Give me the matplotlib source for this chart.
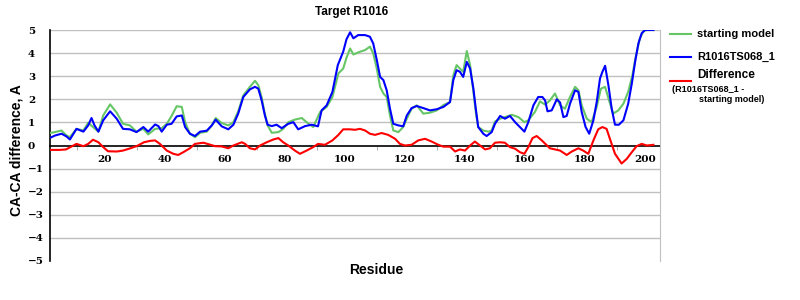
import numpy as np
import matplotlib
matplotlib.use("Agg")
import matplotlib.pyplot as plt
from matplotlib.lines import Line2D

# values (residue, CA-CA difference)
green_x = [2, 3.3, 5.5, 7.2, 8.3, 10.5, 12.8, 14.4, 16, 17.8, 19.4, 21.7, 23.9, 26, 28.3, 30.5, 32.8, 34.4,
           36.7, 38.9, 40.6, 42.2, 43.9, 45.6, 46.7, 48.3, 50, 51.7, 53.9, 55.6, 56.9, 58.9, 61.1, 62.8, 64.4,
           66.1, 68.3, 70, 71.1, 72.2, 73.1, 74.2, 75.6, 77.8, 79.4, 81.1, 83.3, 85.6, 87.2, 89.4, 91.7, 93.9,
           95.8, 97.8, 99.4, 100.5, 101.7, 102.8, 105, 106.7, 108.3, 109.4, 110.6, 111.7, 112.8, 113.9, 115,
           116.1, 117.8, 119.4, 120.6, 122.2, 123.9, 126.1, 128.3, 130.6, 132.8, 135, 136.1, 137.2, 138.3,
           139.4, 140.6, 141.7, 142.8, 143.6, 144.4, 146.1, 147.8, 148.9, 150, 151.7, 153.3, 155.6, 157.8,
           159.8, 161.1, 163.3, 165, 166.7, 168.3, 170, 171.7, 173.3, 175, 176.7, 177.8, 178.9, 180.6, 182.2,
           183.9, 185.3, 186.7, 188, 189.4, 191.1, 192.8, 194.4, 195.8, 196.9, 198.3, 199.4, 200.5, 202.8]
green_y = [0.55, 0.58, 0.65, 0.43, 0.36, 0.72, 0.65, 0.99, 0.8, 0.6, 1.3, 1.78, 1.42, 0.94, 0.87, 0.6, 0.72, 0.48,
           0.72, 0.75, 0.94, 1.28, 1.7, 1.67, 1.01, 0.51, 0.36, 0.55, 0.6, 0.87, 1.19, 0.97, 0.87, 1.01, 1.48,
           2.17, 2.54, 2.8, 2.61, 2.1, 1.48, 0.87, 0.55, 0.58, 0.72, 1.01, 1.12, 1.19, 1.01, 0.8, 1.45, 1.67,
           2.1, 3.12, 3.33, 3.8, 4.2, 3.94, 4.06, 4.13, 4.28, 3.99, 3.33, 2.54, 2.25, 2.1, 1.3,
           0.65, 0.58, 0.8, 1.16, 1.59, 1.74, 1.38, 1.42, 1.52, 1.75, 1.88, 3.04, 3.48, 3.33,
           3.19, 4.09, 3.48, 2.32, 1.45, 0.8, 0.65, 0.6, 0.65, 1.04, 1.16, 1.23, 1.33, 1.23,
           1.01, 1.09, 1.45, 1.91, 1.77, 1.95, 2.25, 1.74, 1.59, 2.1, 2.54, 2.39, 1.74, 1.16, 1.01,
           1.67, 2.46, 2.54, 1.96, 1.38, 1.52, 1.81, 2.32, 3.04, 3.84, 4.64, 4.93, 5.0, 5.0]

blue_x = [2, 3.3, 5.5, 7.2, 8.3, 10.5, 12.8, 14.4, 15.5, 16.5, 17.8, 19.4, 21.7, 23.9, 26, 28.3, 30.5, 32.8,
          34.4, 36.7, 37.8, 38.9, 40.6, 42.2, 43.9, 45.6, 46.7, 48.3, 50, 51.7, 53.9, 55.6, 56.9, 58.9, 61.1,
          62.8, 64.4, 66.1, 68.3, 70, 71.1, 72.2, 73.3, 74.2, 75.6, 77.2, 78.9, 81.1, 82.8, 84.4, 86.7, 88.9,
          91, 92.2, 93.9, 95.8, 97.6, 99.4, 100.5, 101.7, 102.8, 104.4, 106.7, 108.3, 109.4, 110.6, 111.7,
          112.8, 113.9, 115, 116.1, 117.8, 119.4, 120.6, 122.2, 123.9, 126.1, 128.3, 130.6, 132.8, 135,
          136.1, 137.2, 138.3, 139.4, 140.6, 141.7, 142.8, 143.6, 144.4, 146.1, 147.2, 148.9, 150, 151.7,
          153.3, 155, 156.7, 158.3, 159.8, 161.1, 162.8, 164.4, 165.8, 166.7, 167.5, 168.9, 170.6, 171.7,
          172.8, 173.9, 175, 176.7, 177.8, 178.9, 180.2, 181.4, 182.8, 183.9, 185, 185.8, 186.7, 187.8,
          188.9, 190, 191.3, 192.8, 194.4, 195.6, 196.7, 197.8, 198.9, 200, 202.8]
blue_y = [0.35, 0.43, 0.51, 0.39, 0.26, 0.72, 0.6, 0.87, 1.19, 0.87, 0.6, 1.09, 1.48, 1.16, 0.72, 0.7, 0.58, 0.8,
          0.6, 0.91, 0.84, 0.6, 0.9, 0.94, 1.26, 1.3, 0.8, 0.51, 0.41, 0.6, 0.64, 0.87, 1.12, 0.83, 0.7,
          0.9, 1.38, 2.1, 2.43, 2.54, 2.46, 1.96, 1.3, 0.9, 0.84, 0.9, 0.75, 0.94, 1.01, 0.7, 0.84, 0.9,
          0.83, 1.52, 1.74, 2.32, 3.48, 4.06, 4.6, 4.9, 4.64, 4.78, 4.78, 4.71, 4.42, 3.7, 2.97,
          2.83, 2.39, 1.59, 0.94, 0.87, 0.83, 1.3, 1.62, 1.71, 1.62, 1.52, 1.57, 1.67, 1.88,
          2.83, 3.26, 3.19, 2.97, 3.62, 3.33, 2.46, 1.59, 0.8, 0.51, 0.41, 0.58, 0.94, 1.28,
          1.16, 1.28, 1.01, 0.8, 0.6, 1.01, 1.74, 2.1, 2.1, 1.95, 1.48, 1.52, 2.0, 1.86,
          1.23, 1.28, 1.81, 2.39, 2.32, 1.45, 0.8, 0.51, 1.09, 1.88, 2.9, 3.19, 3.45, 2.61,
          1.59, 0.9, 0.9, 1.09, 1.81, 2.68, 3.62, 4.42, 4.86, 5.0, 5.0]

red_x = [2, 5, 7, 10.5, 12.8, 14.4, 16, 17.8, 19.4, 21, 24, 26, 28, 30.5, 33, 35, 36.7, 38.3, 40.6, 42.8, 44.4,
         46.1, 48.3, 50, 52.8, 54.4, 56.7, 58.9, 61.1, 62.8, 65.6, 66.7, 68.3, 70, 71.7, 73.9, 76.1, 77.8, 79.4,
         81.1, 83.3, 85, 87.2, 89.4, 91, 93.3, 95.8, 97.8, 99.4, 101.7, 103.3, 105, 106.7, 108.3, 110, 112.2,
         114.4, 116.7, 118.3, 120, 122.2, 124.4, 126.7, 128.9, 131.1, 132.8, 135, 136.7, 138.3, 140, 141.7,
         143.3, 145, 146.7, 148.3, 150, 151.7, 153.3, 155, 156.7, 158.3, 159.8, 161.1, 162.5, 163.9, 165.6,
         166.7, 168.3, 170, 171.7, 173.9, 175.6, 177.8, 179.4, 181.1, 182.8, 184.4, 185.8, 187.2, 188.3, 190,
         192.2, 193.9, 195.6, 197.2, 198.9, 200.6, 202.8]
red_y = [-0.19, -0.19, -0.17, 0.07, -0.03, 0.07, 0.25, 0.14, -0.07, -0.25, -0.26, -0.22, -0.14, -0.03, 0.14, 0.2,
         0.22, 0.07, -0.22, -0.36, -0.41, -0.29, -0.12, 0.07, 0.12, 0.06, -0.03, -0.04, -0.12, 0.0, 0.14, 0.07,
         -0.12, -0.17, 0.0, 0.14, 0.26, 0.32, 0.14, 0.0, -0.22, -0.36, -0.22, -0.07, 0.07, 0.03, 0.22, 0.46, 0.7,
         0.7, 0.68, 0.72, 0.65, 0.51, 0.46, 0.54, 0.46, 0.29, 0.07, 0.0, 0.03, 0.22, 0.29, 0.17, 0.03, -0.05,
         -0.05, -0.26, -0.17, -0.22, 0.0, 0.17, 0.0, -0.17, -0.12, 0.12, 0.14, 0.12, -0.07, -0.14, -0.29, -0.36,
         -0.07, 0.32, 0.41, 0.22, 0.08, -0.12, -0.17, -0.22, -0.41, -0.26, -0.12, -0.22, -0.36, 0.22, 0.7, 0.8,
         0.72, 0.29, -0.36, -0.78, -0.58, -0.29, -0.03, 0.07, 0.0, 0.03]

x_labels = [20, 40, 60, 80, 100, 120, 140, 160, 180, 200]
y_ticks = [-5, -4, -3, -2, -1, 0, 1, 2, 3, 4, 5]

GREEN, BLUE, RED = "#66c666", "#0000ff", "#ff0000"
LAB = "Liberation Sans"
TICKF = "DejaVu Serif"

fig = plt.figure(figsize=(8, 3), dpi=100)
ax = fig.add_axes([50 / 800, 1 - 261 / 300, 610 / 800, 231 / 300])

for v in y_ticks:
    if v not in (0, -5):
        ax.axhline(v, color="#c0c0c0", lw=1, zorder=0)

ax.plot(green_x, green_y, color=GREEN, lw=1.5, zorder=3)
ax.plot(blue_x, blue_y, color=BLUE, lw=1.5, zorder=4)
ax.plot(red_x, red_y, color=RED, lw=1.5, zorder=5)

ax.set_xlim(5 / 3, 205)
ax.set_ylim(-5, 5)
ax.spines["top"].set_visible(False)
ax.spines["right"].set_color("#c0c0c0")
ax.spines["left"].set_linewidth(1.2)
ax.spines["bottom"].set_position(("data", 0))
ax.spines["bottom"].set_linewidth(1.2)
ax.spines["bottom"].set_zorder(2)

ax.set_xticks(x_labels)
ax.set_xticks([10.67 + 20 * k for k in range(10)], minor=True)
ax.tick_params(axis="x", which="major", length=0, pad=7)
ax.tick_params(axis="x", which="minor", length=3, color="#a0a0a0", direction="out")
ax.set_yticks(y_ticks)
ax.tick_params(axis="y", length=0, pad=16)
for lbl in ax.get_xticklabels() + ax.get_yticklabels():
    lbl.set_fontfamily(TICKF)
    lbl.set_fontweight("bold")
    lbl.set_fontsize(7.5)
for lbl in ax.get_yticklabels():
    lbl.set_ha("left")

fig.text(352 / 800, 1 - 12 / 300, "Target R1016", ha="center", va="center",
         family=LAB, weight="bold", fontsize=8.5)
fig.text(17 / 800, 1 - 150 / 300, "CA-CA difference, A", ha="center", va="center", rotation=90,
         family=LAB, weight="bold", fontsize=10)
fig.text(376 / 800, 1 - 270 / 300, "Residue", ha="center", va="center",
         family=LAB, weight="bold", fontsize=10)

# legend drawn by hand to match the layout
for y, c in [(34, GREEN), (57, BLUE), (81, RED)]:
    fig.add_artist(Line2D([670 / 800, 691 / 800], [1 - y / 300] * 2, color=c, lw=1.5))
fig.text(697 / 800, 1 - 34 / 300, "starting model", va="center", family=LAB, weight="bold", fontsize=8)
fig.text(697 / 800, 1 - 57 / 300, "R1016TS068_1", va="center", family=LAB, weight="bold", fontsize=8)
fig.text(697 / 800, 1 - 75 / 300, "Difference", va="center", family=LAB, weight="bold", fontsize=8.5)
fig.text(672 / 800, 1 - 89 / 300, "(R1016TS068_1 -", va="center", family=LAB, weight="bold", fontsize=6.5)
fig.text(699 / 800, 1 - 99 / 300, "starting model)", va="center", family=LAB, weight="bold", fontsize=6.5)

fig.savefig("out.png", dpi=100)
